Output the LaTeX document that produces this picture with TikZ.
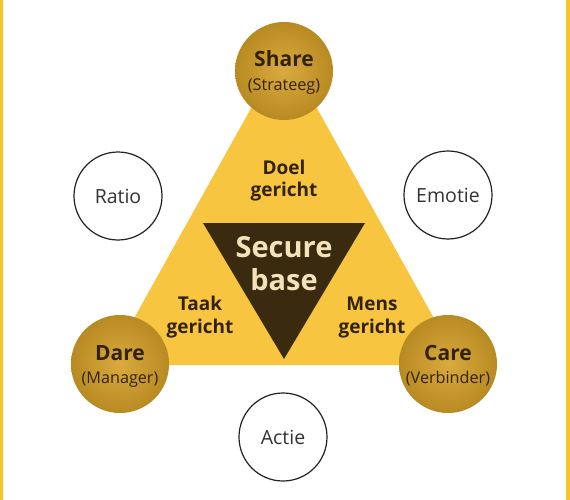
\documentclass[tikz,border=0pt]{standalone}
\usepackage{fontspec}
\setmainfont{Open Sans}
\definecolor{borderY}{HTML}{F6C626}
\definecolor{triY}{HTML}{F8C540}
\definecolor{darkB}{HTML}{3A2A10}
\definecolor{cream}{HTML}{F4E3BA}
\definecolor{txtB}{HTML}{33220A}
\definecolor{goldIn}{HTML}{D9AA3E}
\definecolor{goldOut}{HTML}{B88A22}
\definecolor{ringC}{HTML}{222222}
\definecolor{greyT}{HTML}{333333}
\tikzset{
  goldball/.style={circle, minimum size=98pt, inner sep=0pt, shading=radial, inner color=goldIn, outer color=goldOut},
  ringball/.style={circle, draw=ringC, line width=1.2pt, fill=white, minimum size=88pt, inner sep=0pt, text=greyT, font=\fontsize{19.5}{19.5}\selectfont},
  bigt/.style={anchor=base, text=txtB, inner sep=0pt, font=\fontsize{21}{21}\selectfont\bfseries},
  smallt/.style={anchor=base, text=txtB, inner sep=0pt, font=\fontsize{16.2}{16.2}\selectfont},
  midt/.style={anchor=base, text=txtB, inner sep=0pt, font=\fontsize{19}{19}\selectfont\bfseries},
  securet/.style={anchor=base, text=cream, inner sep=0pt, font=\fontsize{29}{29}\selectfont\bfseries}
}
\begin{document}
\begin{tikzpicture}[x=1pt,y=-1pt]
\useasboundingbox (0,0) rectangle (570,500);
\fill[white] (0,0) rectangle (570,500);
\fill[borderY] (0,0) rectangle (3,500);
\fill[borderY] (566,0) rectangle (570,500);
% big triangle
\coordinate (tA) at (284,49);
\coordinate (tL) at (108,365);
\coordinate (tR) at (460,365);
\fill[triY] (tA) -- (tL) -- (tR) -- cycle;
% inner triangle
\coordinate (dL) at (203,223);
\coordinate (dR) at (365,223);
\coordinate (dB) at (284,359);
\fill[darkB] (dL) -- (dR) -- (dB) -- cycle;
\node[securet] (sec1) at (284,257) {Secure};
\node[securet] (sec2) at (284,290) {base};
% side labels
\node[midt] (doel1) at (284,174) {Doel};
\node[midt] (doel2) at (284,196) {gericht};
\node[midt] (taak1) at (200,310) {Taak};
\node[midt] (taak2) at (200,333) {gericht};
\node[midt] (mens1) at (372,310) {Mens};
\node[midt] (mens2) at (372,333) {gericht};
% gold circles
\node[goldball] (share) at (284,71) {};
\node[bigt] (shareA) at (284,67) {Share};
\node[smallt] (shareB) at (284,91) {(Strateeg)};
\node[goldball] (dare) at (120,364) {};
\node[bigt] (dareA) at (120,360) {Dare};
\node[smallt] (dareB) at (120,383) {(Manager)};
\node[goldball] (care) at (448,364) {};
\node[bigt] (careA) at (448,360) {Care};
\node[smallt] (careB) at (448,383) {(Verbinder)};
% white circles
\node[ringball] (ratio) at (118,196) {Ratio};
\node[ringball] (emotie) at (448,195) {Emotie};
\node[ringball] (actie) at (283,437) {Actie};
\end{tikzpicture}
\end{document}
